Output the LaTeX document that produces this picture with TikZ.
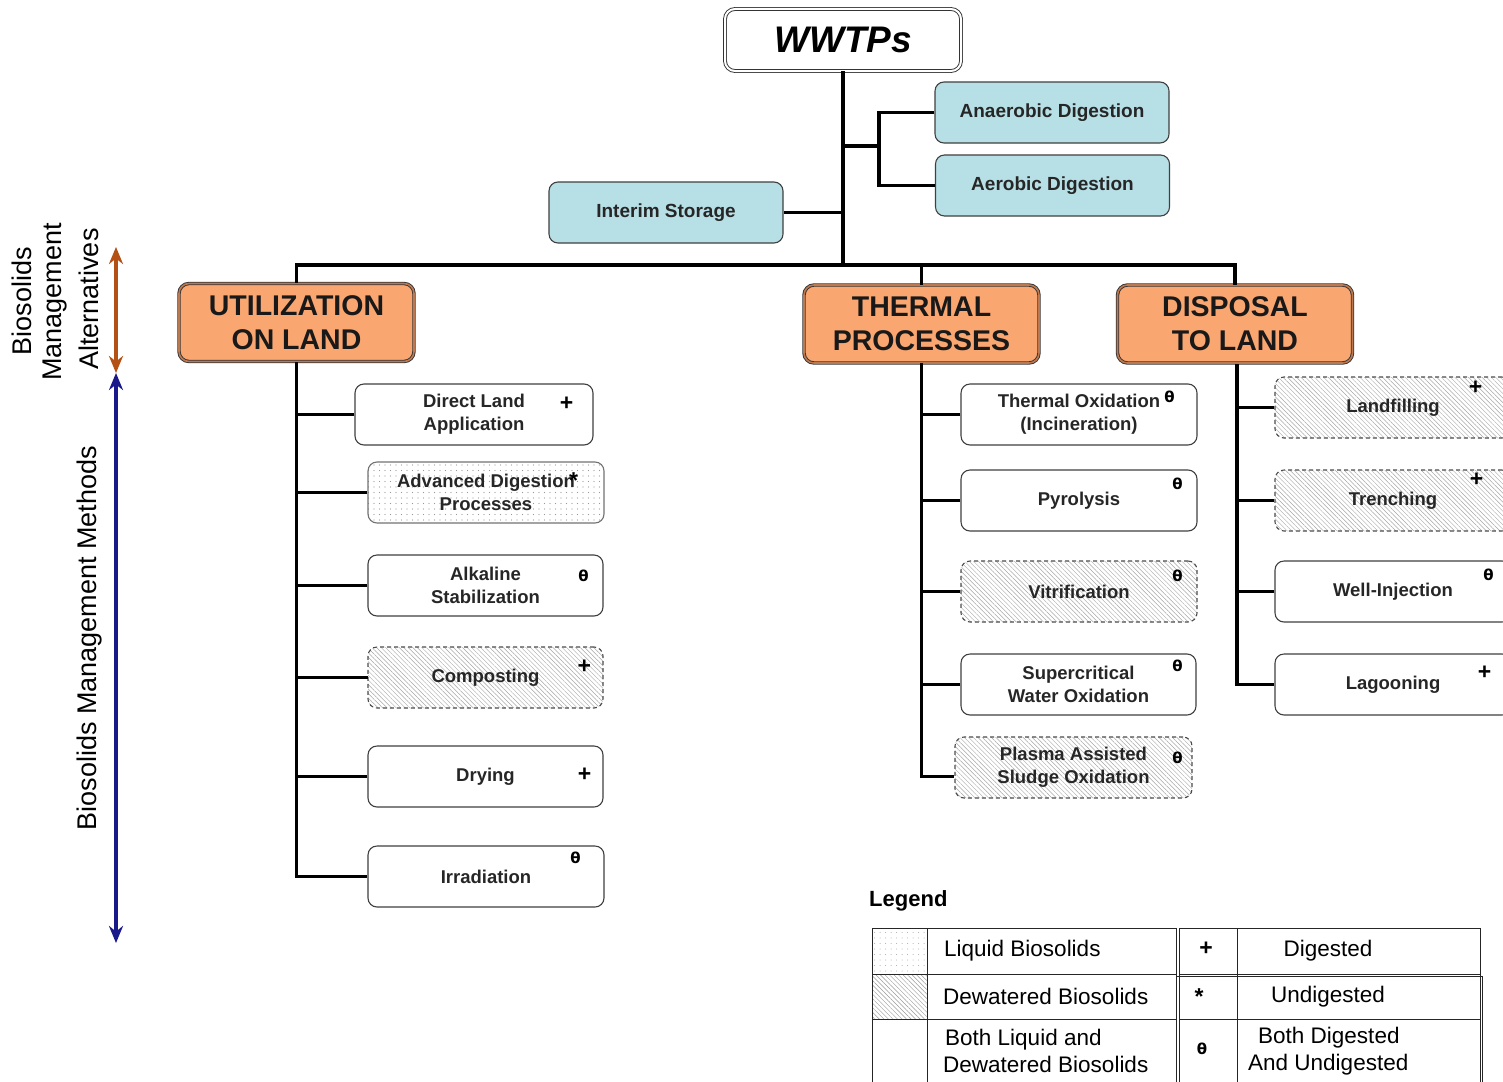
\documentclass[tikz,border=0pt]{standalone}
\usepackage{fontspec}
\setmainfont{Liberation Sans}
\newfontfamily\symfont{DejaVu Sans}
\usetikzlibrary{arrows.meta,patterns.meta,calc}
\definecolor{lblue}{RGB}{183,224,230}
\definecolor{orangebox}{RGB}{249,166,112}
\definecolor{orangeedge}{RGB}{190,120,80}
\definecolor{arrbrown}{RGB}{180,80,20}
\definecolor{arrblue}{RGB}{25,25,140}
\tikzset{
  conn/.style={line width=3.3pt},
  bluebox/.style={draw=black!75, line width=1.1pt, rounded corners=9pt, fill=lblue,
     minimum width=234pt, minimum height=61pt, font=\fontsize{19}{22}\selectfont\bfseries, text=black!85},
  catbox/.style={draw=black!80, line width=0.9pt, double=orangeedge, double distance=1.6pt,
     rounded corners=10pt, fill=orangebox, minimum width=235pt, minimum height=78pt,
     align=center, font=\fontsize{28.5}{34}\selectfont\bfseries, text=black!90},
  mbox/.style={draw=black!75, line width=1.1pt, rounded corners=9pt, fill=white,
     minimum width=236pt, minimum height=61pt, align=center,
     font=\fontsize{18.5}{23}\selectfont\bfseries, text=black!85},
  dotbox/.style={mbox, draw=black!55, preaction={fill=white},
     pattern={Dots[radius=0.55pt,distance=5.5pt]}, pattern color=black!40},
  hatchbox/.style={mbox, draw=black!70, dashed, dash pattern=on 4pt off 3pt, preaction={fill=white},
     pattern={Lines[angle=-45,distance=3.2pt,line width=0.45pt]}, pattern color=black!35},
  mk/.style={font=\fontsize{23}{23}\selectfont\bfseries, inner sep=0pt},
  th/.style={font=\symfont\fontsize{15}{15}\selectfont\bfseries, inner sep=0pt},
  sidetxt/.style={rotate=90, font=\fontsize{27}{27}\selectfont, inner sep=0pt},
  legtxt/.style={font=\fontsize{22.5}{27}\selectfont, align=left, inner sep=0pt},
  sidearrow/.style={line width=3.6pt, -{Stealth[length=17pt,width=14pt]}}
}
\begin{document}
\begin{tikzpicture}[x=1pt,y=-1pt]
\clip (0,0) rectangle (1503,1081);
\fill[white] (0,0) rectangle (1503,1081);

% top
\node[draw=black!80, line width=0.9pt, double=white, double distance=2pt, rounded corners=10pt,
  fill=white, minimum width=236pt, minimum height=62pt,
  font=\fontsize{37}{37}\selectfont\bfseries\itshape] (wwtp) at (843,40) {WWTPs};
\node[bluebox] (ana) at (1052,112.5) {Anaerobic Digestion};
\node[bluebox] (aer) at (1052.5,185.5) {Aerobic Digestion};
\node[bluebox] (int) at (666,212.5) {Interim Storage};

\node[catbox] (util) at (296.5,322.5) {UTILIZATION\\ON LAND};
\node[catbox] (therm) at (921.5,324) {THERMAL\\PROCESSES};
\node[catbox] (disp) at (1235,324) {DISPOSAL\\TO LAND};

% utilization boxes
\node[mbox, minimum width=238pt] (dla) at (474,414.5) {Direct Land\\Application};
\node[dotbox] (adp) at (486,492.5) {Advanced Digestion\\Processes};
\node[mbox, minimum width=235pt] (alk) at (485.5,585.5) {Alkaline\\Stabilization};
\node[hatchbox, minimum width=235pt] (comp) at (485.5,677.5) {Composting};
\node[mbox, minimum width=235pt] (dry) at (485.5,776.5) {Drying};
\node[mbox] (irr) at (486,876.5) {Irradiation};

% thermal boxes
\node[mbox] (tox) at (1079,414.5) {Thermal Oxidation\\(Incineration)};
\node[mbox] (pyr) at (1079,500.5) {Pyrolysis};
\node[hatchbox] (vit) at (1079,591.5) {Vitrification};
\node[mbox, minimum width=235pt] (scw) at (1078.5,684.5) {Supercritical\\Water Oxidation};
\node[hatchbox, minimum width=237pt] (pas) at (1073.5,767.5) {Plasma Assisted\\Sludge Oxidation};

% disposal boxes
\node[hatchbox] (lf) at (1393,407.5) {Landfilling};
\node[hatchbox] (tr) at (1393,500.5) {Trenching};
\node[mbox] (wi) at (1393,591.5) {Well-Injection};
\node[mbox] (lag) at (1393,684.5) {Lagooning};

% marks
\node[mk] (m1) at ([xshift=-27pt,yshift=-20pt]dla.north east) {+};
\node[mk] (m2) at ([xshift=-31pt,yshift=-19pt]adp.north east) {*};
\node[th] (m3) at ([xshift=-20pt,yshift=-21pt]alk.north east) {θ};
\node[mk] (m4) at ([xshift=-19pt,yshift=-20pt]comp.north east) {+};
\node[mk] (m5) at ([xshift=-19pt,yshift=-29pt]dry.north east) {+};
\node[th] (m6) at ([xshift=-29pt,yshift=-12pt]irr.north east) {θ};
\node[th] (m7) at ([xshift=-28pt,yshift=-13pt]tox.north east) {θ};
\node[th] (m8) at ([xshift=-20pt,yshift=-14pt]pyr.north east) {θ};
\node[th] (m9) at ([xshift=-20pt,yshift=-15pt]vit.north east) {θ};
\node[th] (m10) at ([xshift=-19pt,yshift=-12pt]scw.north east) {θ};
\node[th] (m11) at ([xshift=-15pt,yshift=-21pt]pas.north east) {θ};
\node[mk] (m12) at ([xshift=-36pt,yshift=-11pt]lf.north east) {+};
\node[mk] (m13) at ([xshift=-35pt,yshift=-10pt]tr.north east) {+};
\node[th] (m14) at ([xshift=-23pt,yshift=-14pt]wi.north east) {θ};
\node[mk] (m15) at ([xshift=-27pt,yshift=-19pt]lag.north east) {+};

% connectors
\coordinate (bar) at (0,265);
\coordinate (dj) at (879,146);
\draw[conn] (wwtp.south) -- (wwtp.south |- bar);
\draw[conn] (util.north) -- (util.north |- bar) -- (disp.north |- bar) -- (disp.north);
\draw[conn] (therm.north) -- (therm.north |- bar);
\draw[conn] (dj) -- (dj -| wwtp.south);
\draw[conn] (ana.west) -| (dj) |- (aer.west);
\draw[conn] (int.east) -- (int.east -| wwtp.south);

\draw[conn] (util.south) -- (util.south |- irr.west) -- (irr.west);
\foreach \b in {dla,adp,alk,comp,dry} \draw[conn] (\b.west) -- (\b.west -| util.south);
\coordinate (pasj) at ([yshift=-9pt]pas.west);
\draw[conn] (therm.south) -- (therm.south |- pasj) -- (pasj);
\foreach \b in {tox,pyr,vit,scw} \draw[conn] (\b.west) -- (\b.west -| therm.south);
\coordinate (dispx) at (1237,364);
\draw[conn] (dispx) -- (dispx |- lag.west) -- (lag.west);
\foreach \b in {lf,tr,wi} \draw[conn] (\b.west) -- (\b.west -| dispx);

% side arrows
\coordinate (a1) at (116,247);
\coordinate (a2) at (116,373);
\coordinate (a3) at (116,943);
\coordinate (am) at (116,310);
\coordinate (bm) at (116,650);
\draw[arrbrown, sidearrow] (am) -- (a1);
\draw[arrbrown, sidearrow] (am) -- (a2);
\draw[arrblue, sidearrow] (bm) -- (a3);
\draw[arrblue, sidearrow] (bm) -- (a2);

\node[sidetxt] (s1) at (22,301) {Biosolids};
\node[sidetxt] (s2) at (55,302) {Management};
\node[sidetxt] (s3) at (89,299) {Alternatives};
\node[sidetxt] (s4) at (90,638) {Biosolids Management Methods};

% legend
\node[font=\fontsize{22}{22}\selectfont\bfseries, anchor=west, inner sep=0pt] (leg) at (869,901) {Legend};
\coordinate (L0) at (872,928);
\fill[white, pattern={Dots[radius=0.5pt,distance=5.5pt]}, pattern color=black!35] (872,928) rectangle (927,974);
\fill[white, pattern={Lines[angle=-45,distance=3.2pt,line width=0.45pt]}, pattern color=black!40] (872,974) rectangle (927,1019);
\draw[line width=1pt, black!85] (872,1090) -- (L0) -- (1176,928) -- (1176,1090);
\draw[line width=1pt, black!85] (927,928) -- (927,1090);
\draw[line width=1pt, black!85] (872,974) -- (1176,974) (872,1019) -- (1176,1019);
\draw[line width=1pt, black!85] (1179,1090) -- (1179,928) -- (1480,928) -- (1480,1090);
\draw[line width=1pt, black!85] (1237,928) -- (1237,1090);
\draw[line width=1pt, black!85] (1179,974) -- (1480,974) (1179,1019) -- (1480,1019);
\draw[line width=1pt, black!85] (1176,976) -- (1482,976) -- (1482,1090);

\node[legtxt, anchor=west] (l1) at (944,951) {Liquid Biosolids};
\node[legtxt, anchor=west] (l2) at (943,996) {Dewatered Biosolids};
\node[legtxt, anchor=west] (l3) at (943,1051) {\hspace*{2pt}Both Liquid and\\Dewatered Biosolids};
\node[mk] (l4) at (1206,949) {+};
\node[mk] (l5) at (1199,997) {*};
\node[th] (l6) at (1202,1049) {θ};
\node[legtxt] (l7) at (1328,951) {Digested};
\node[legtxt] (l8) at (1328,997) {Undigested};
\node[legtxt, anchor=west] (l9) at (1248,1051) {\hspace*{10pt}Both Digested\\And Undigested};
\end{tikzpicture}
\end{document}
